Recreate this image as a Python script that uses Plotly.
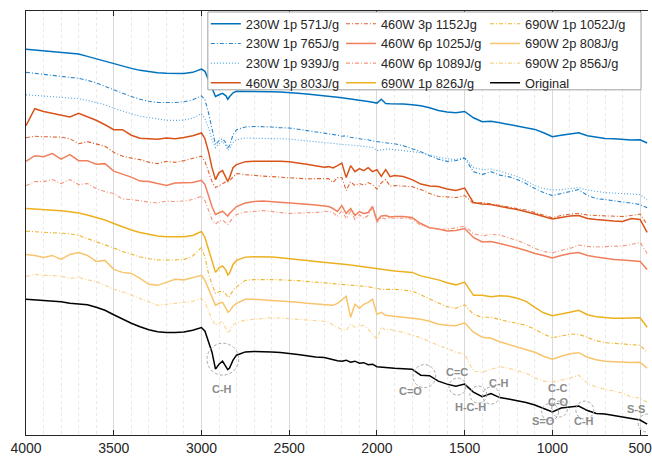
import plotly.graph_objects as go

# Wavenumber grid (cm^-1)
wavenumber = [4000, 3950, 3900, 3850, 3800, 3750, 3700, 3650, 3600, 3550, 3500, 3450, 3400, 3350, 3300, 3250, 3200, 3150, 3100, 3050,
              3000, 2980, 2960, 2940, 2920, 2900, 2880, 2860, 2850, 2840, 2820, 2800,
              2750, 2700, 2650, 2600, 2550, 2500, 2450, 2400, 2350, 2300,
              2275, 2250, 2225, 2200, 2175, 2150, 2125, 2100, 2075, 2050, 2025, 2000, 1975, 1950, 1925,
              1900, 1850, 1800, 1750, 1700, 1650, 1600, 1550, 1500, 1450, 1400, 1350, 1300, 1250, 1200, 1150, 1100, 1050,
              1000, 950, 900, 850, 800, 750, 700, 650, 600, 550, 500,
              460]

# Offset transmittance (a.u.) for each sample
s571 = [386.7, 386, 385.3, 384.5, 383.7, 382.5, 381.8, 379.5, 377, 374.5, 371.8, 369.5, 367.5, 365.5, 364, 363, 362.5, 362.2, 362.3, 363.5,
        366.7, 364.5, 356, 346, 339.3, 341, 342.5, 340, 336.5, 339, 343, 344.5,
        344.5, 344.5, 344.3, 344, 343.7, 343.3, 342.5, 341.7, 341, 340.3,
        339.8, 339, 338.5, 338, 337.5, 337, 336.3, 335.5, 335, 334.3, 333.5, 332.7, 336.5, 332.2, 332,
        332, 331.7, 331, 330, 328, 325.3, 323.7, 323, 324.3, 318, 314, 314.5, 313, 311.5, 310, 308, 306.3, 303,
        299, 300.5, 301.5, 303, 300, 298.3, 297.3, 297, 296.3, 295.7, 296,
        292.7]
s765 = [363.5, 362.5, 361.5, 360.7, 359.7, 358.7, 357.5, 355.5, 353, 349.5, 346, 342.7, 339.3, 336.5, 334.5, 333.3, 333, 333.3, 334, 336,
        340, 336, 323, 306, 291, 295, 297, 293, 288, 290, 301, 306,
        308.7, 309.3, 309.3, 308.7, 308, 307.7, 306.5, 305.3, 303.7, 302.7,
        302, 301.3, 300.5, 299.5, 300, 298.5, 297.5, 297, 296.3, 296, 294.7, 294, 293.3, 292.7, 292.3,
        292, 290, 287, 284, 280, 276.5, 274.3, 275, 277.5, 264, 261, 264, 260.5, 259, 256, 252, 247, 243,
        240, 242, 244, 246, 240, 237, 236, 234.5, 233.5, 232.5, 231,
        227.7]
s939 = [341, 340.5, 340, 339.3, 338.5, 337.7, 337, 335.5, 333.5, 331, 327.5, 324.5, 322, 319.5, 318, 316.5, 315.5, 315.3, 315.7, 317.5,
        322, 317, 308, 296, 288, 292, 294.5, 290, 285.5, 287, 293, 296,
        297.7, 297.5, 297.3, 297, 296.8, 296.7, 295.7, 294.7, 293.7, 292.7,
        292.3, 292, 291.7, 291.3, 291, 290.7, 290.3, 289.8, 289.3, 288.7, 288.3, 285, 286, 286.5, 286.5,
        286, 285.5, 284.5, 283, 281, 278.5, 277, 276, 278.5, 268, 266, 266.5, 264.5, 262, 259, 255, 250, 247,
        245.5, 246, 247, 248, 245.5, 244, 243, 242.5, 242, 241.5, 241,
        236]
s803 = [310, 327, 324.3, 322.5, 320, 318.7, 322.5, 319, 315.5, 311, 306, 306, 300.5, 297.5, 297, 296.5, 297.7, 297, 298.3, 300,
        302.7, 297, 284, 268, 256, 263, 265, 258, 254.3, 258, 268, 271,
        274, 274.3, 274.5, 274, 274.3, 274, 273, 271.5, 270, 268.5,
        269, 267.7, 270, 272.5, 258, 270, 264, 267, 265, 268, 264, 266, 259.3, 266, 259,
        260, 259, 256, 251.5, 249.5, 249, 246.5, 245, 247.5, 233, 231.5, 231, 229, 227.5, 226, 224, 221.5, 219,
        216.5, 218, 219.5, 220, 217, 216, 215, 214.5, 214, 217, 216,
        203]
s1152 = [298, 299.5, 299, 298.5, 298.5, 297, 292, 294, 291.5, 289.5, 283.3, 279.5, 277.5, 276, 273.5, 272, 274.3, 273.3, 275, 277,
         279.5, 274, 264, 254, 248, 250, 252, 254, 253.5, 255, 259, 262,
         261, 260, 259.5, 259, 258.5, 257.7, 257, 256.7, 257, 257.5,
         257, 253, 258, 258, 245, 254, 250, 252, 250.5, 253, 251, 246.5, 253, 256, 249.5,
         250, 249.5, 249, 246, 242, 239.3, 238.5, 238, 240, 232, 233, 231.5, 230, 229, 227.5, 225.5, 223, 220,
         217.7, 220, 221.5, 222, 220.5, 220, 219.5, 219, 219, 220, 221.5,
         211]
s1025 = [274.3, 280, 279, 282, 276.5, 281, 275, 275, 271.5, 272, 264.5, 261.5, 258.5, 254.5, 254, 252, 250, 252.5, 252.5, 253,
         255.3, 251, 240, 229, 221, 223, 224.3, 221, 219.5, 222, 226, 229,
         232.5, 234, 234.5, 234, 233, 232.5, 232, 231.3, 230.5, 229.5,
         229, 227, 224, 230, 222, 227, 220, 224, 222, 223, 229, 215, 219.5, 220, 218.5,
         219, 219, 218, 212, 207.7, 206.5, 204.5, 205, 207, 198, 193.5, 194, 192, 190, 187.5, 185, 182, 180,
         177.5, 180, 182, 183, 180, 178.5, 177, 176, 175.5, 174.5, 174,
         166]
s1089 = [250, 254, 254, 256, 252, 256, 251, 252, 247, 244, 242, 236.5, 236, 234.5, 233.5, 232.5, 234.5, 234, 234.5, 236,
         239.3, 235, 225, 216, 211.5, 214.5, 215.5, 212, 211, 213, 218, 221,
         223.5, 224, 225, 224, 223, 222, 222.5, 222.5, 223, 224,
         224.3, 223, 219, 225, 217, 224, 216, 221, 217, 220, 228, 213, 218, 216.5, 218,
         217, 217.5, 216.5, 210, 208, 206, 206.5, 207.5, 209.5, 202, 199.5, 201, 200.5, 198, 195, 191.5, 187, 184,
         182.5, 185, 187, 190.5, 189, 188.5, 189, 189.5, 189.5, 191, 193,
         182]
s826 = [227, 226.5, 226, 225.3, 224.7, 223.7, 222.5, 220.5, 218, 215.5, 212, 208.5, 205.5, 203, 201, 199.5, 198.7, 198.5, 198.7, 200,
        204, 198, 186, 174, 163, 167.5, 169.5, 165, 160.5, 162, 171, 175,
        178.3, 178.7, 178.7, 178.3, 177.7, 177, 176, 175, 174, 173.3,
        173, 172.5, 172, 171.5, 171, 170.3, 169.7, 169, 168.3, 168, 167.2, 166.3, 165.7, 165.2, 164.7,
        164.3, 163.7, 163, 159.5, 157.7, 155.5, 152.7, 150.5, 153.3, 140, 140, 138.5, 139.5, 139, 137, 134, 128, 122.5,
        119.5, 121, 123, 125, 120.5, 118.5, 117.5, 117, 117, 117.5, 117.5,
        108]
s1052 = [204.3, 203.7, 203.2, 202.7, 202.2, 201.7, 200, 197, 194, 190.5, 187.5, 184, 181.3, 178.5, 176.7, 175.5, 175.3, 175.5, 175.8, 179.5,
         188, 178, 162, 151, 142, 143.5, 144.5, 141, 138, 139, 145, 148.5,
         155, 155.7, 156, 155.7, 155.5, 155.3, 154.7, 154, 153.3, 152.7,
         152.3, 152, 151.5, 151, 150.7, 150.3, 150, 149.7, 149.3, 148.7, 147.7, 146.5, 146, 146, 146,
         146, 145.2, 144.3, 140.5, 136.5, 132, 128.5, 127, 130.5, 121, 118, 118, 115.5, 113.5, 112, 110, 106, 101,
         97.5, 99, 101, 101, 97.5, 94.5, 92.5, 92, 91.5, 91, 90,
         83]
s808 = [181, 180, 178, 180, 176, 181, 183, 180, 174, 175, 166, 163, 162, 157, 151, 150, 153, 156, 155.5, 157.5,
        160, 155, 146, 137, 130, 132, 133, 127, 123, 124, 129, 132,
        136, 136, 135.5, 135, 134.5, 134, 133, 132, 131.5, 131,
        130.5, 130, 132, 136, 139, 118, 131, 127, 131, 133, 136, 121, 123, 120, 119.5,
        119.3, 118.5, 117.7, 116, 114, 111, 110, 109.5, 112.5, 103, 98, 97, 93.5, 91, 88.5, 86, 83, 79,
        76, 79, 81.5, 82.5, 78, 75.5, 74, 73.5, 73, 72.7, 73,
        67]
s856 = [159, 161, 160, 160, 159, 157, 158, 155.5, 154, 150, 146, 143.5, 140, 137, 133, 130, 131, 132, 132.5, 134,
        136.7, 133, 124, 116, 110, 112, 114, 106, 102, 104, 110, 113,
        115, 116, 117, 117.5, 117.3, 116.5, 115.5, 115, 114.5, 114,
        113, 110, 108, 106, 105, 111, 108, 109, 110, 106, 101, 96, 108, 105, 106,
        104.3, 103, 100.5, 97.5, 93.5, 90, 87, 83, 81, 64, 63, 66, 68.5, 67, 64.5, 62, 57.5, 54,
        53, 55, 57, 60, 52, 48, 46, 44, 42, 38, 37,
        32.7]
s_original = [136, 135.3, 134.7, 134.2, 133.5, 132, 131.5, 130.5, 128, 125, 120.5, 116, 112, 108.5, 105.5, 103.5, 102.7, 102.7, 103.2, 105,
              107.7, 104, 93, 83, 66, 71, 74, 69, 65.5, 67, 75, 80,
              83.3, 83.7, 83.7, 83.3, 82.7, 82, 80.7, 79.5, 78.2, 77.7,
              76.5, 75.5, 74.5, 74, 75, 73, 74, 72, 72.5, 70.5, 71, 68.5, 68, 67.5, 67.3,
              67, 66.5, 66, 60, 59.5, 54, 51, 49, 51, 43, 38.5, 41.5, 37.5, 36, 34.5, 32.5, 30, 26.5,
              23, 27, 27.7, 29, 24.5, 21.5, 21, 19.5, 18.5, 17, 15,
              11]

series_names = ["230W 1p 571J/g", "230W 1p 765J/g", "230W 1p 939J/g", "460W 3p 803J/g",
                "460W 3p 1152Jg", "460W 6p 1025J/g", "460W 6p 1089J/g", "690W 1p 826J/g",
                "690W 1p 1052J/g", "690W 2p 808J/g", "690W 2p 856J/g", "Original"]
series_values = [s571, s765, s939, s803, s1152, s1025, s1089, s826, s1052, s808, s856, s_original]
series_colors = ["#0072BD", "#2a86cc", "#4fa3df", "#D95319", "#df612c", "#f07f5c", "#f4967c",
                 "#EDB120", "#efb42c", "#f8c46c", "#fbd28a", "#000000"]
DASHDOT = "4px,2px,1px,2px"
series_dash = ["solid", DASHDOT, "1px,2px", "solid", DASHDOT, "solid", DASHDOT,
               "solid", DASHDOT, "solid", DASHDOT, "solid"]
series_width = [1.5, 1.1, 1.1, 1.5, 1.1, 1.5, 1.1, 1.5, 1.1, 1.5, 1.1, 1.5]

# plot-area geometry (pixels) used for paper-coordinate placement
PL, PW, PT, PH = 26, 626, 11, 425
legend_ids = ["legend", "legend2", "legend3"]
legend_left_px = [207, 343, 488]

fig = go.Figure()
for i, (nm, vals, col, dsh, lw) in enumerate(zip(series_names, series_values, series_colors, series_dash, series_width)):
    fig.add_trace(go.Scatter(
        x=wavenumber, y=vals, mode="lines", name=nm,
        line=dict(color=col, dash=dsh, width=lw),
        legend=legend_ids[i // 4],
    ))

# Band annotations
GRAY = "#8c8c8c"
circles = [(2878, 76, 16), (1730, 59, 11.5), (1541, 48.5, 8.5), (1422, 40.5, 8.5), (1349, 39.5, 8.5),
           (1013, 23, 8.5), (960, 26, 8), (815, 25, 9), (460, 12, 9)]
labels = [("C-H", 2882, 46.5, "center"), ("C=O", 1809, 44.3, "center"), ("C=C", 1541, 63.5, "center"),
          ("H-C-H", 1466, 27.7, "center"), ("C-H", 1305, 52.5, "center"), ("C-C", 969, 47, "center"),
          ("C-O", 965, 32.7, "center"), ("S=O", 1051, 14, "center"), ("C-H", 820, 14, "center"),
          ("S-S", 463, 26, "right")]
PX_PER_WN = 0.1766
shapes = []
for cx, cy, r in circles:
    dx = r / PX_PER_WN
    shapes.append(dict(type="circle", xref="x", yref="y", x0=cx + dx, x1=cx - dx, y0=cy - r, y1=cy + r,
                       line=dict(color="#a8a8a8", width=1, dash="3px,2px")))
# legend frame (one box around the three legend columns)
box_l, box_r, box_t, box_b = 209, 645, 12, 90
shapes.append(dict(type="rect", xref="paper", yref="paper", layer="above",
                   x0=(box_l - PL) / PW, x1=(box_r - PL) / PW,
                   y0=1 - (box_b - PT) / PH, y1=1 - (box_t - PT) / PH,
                   fillcolor="white", line=dict(color="#a0a0a0", width=1)))

annotations = []
for txt, lx, ly, anc in labels:
    annotations.append(dict(x=lx, y=ly, xref="x", yref="y", text="<b>%s</b>" % txt, showarrow=False,
                            xanchor=anc, yanchor="middle",
                            font=dict(family="Liberation Sans, Arial", size=11, color=GRAY)))

legend_common = dict(orientation="v", y=1 + 2 / PH, xanchor="left", yanchor="top",
                     bgcolor="rgba(0,0,0,0)", borderwidth=0, itemwidth=30, tracegroupgap=0,
                     font=dict(size=12.8, color="#262626", family="Liberation Sans, Arial"))
legend_layout = {}
for lid, lpx in zip(legend_ids, legend_left_px):
    legend_layout[lid] = dict(legend_common, x=(lpx - PL) / PW)

fig.update_layout(
    width=652, height=456,
    margin=dict(l=PL, r=652 - PL - PW, t=PT, b=456 - PT - PH),
    paper_bgcolor="white", plot_bgcolor="white",
    font=dict(family="Liberation Sans, Arial", color="#262626"),
    showlegend=True,
    shapes=shapes,
    annotations=annotations,
    xaxis=dict(range=[4000, 455], tickvals=[4000, 3500, 3000, 2500, 2000, 1500, 1000, 500],
               ticks="inside", ticklen=5, tickcolor="#262626", showline=True, linecolor="#262626", linewidth=1,
               mirror="ticks", showgrid=True, gridcolor="#d9d9d9", gridwidth=1, zeroline=False,
               tickfont=dict(size=14, color="#262626"), ticklabeloverflow="allow",
               minor=dict(dtick=100, showgrid=True, gridcolor="#e8e8e8", griddash="dot", ticks="")),
    yaxis=dict(range=[0, 425], showline=True, linecolor="#262626", linewidth=1, mirror=False,
               showticklabels=False, ticks="", showgrid=False, zeroline=False),
    **legend_layout,
)

fig.write_html("out.html", config={"displayModeBar": False})
